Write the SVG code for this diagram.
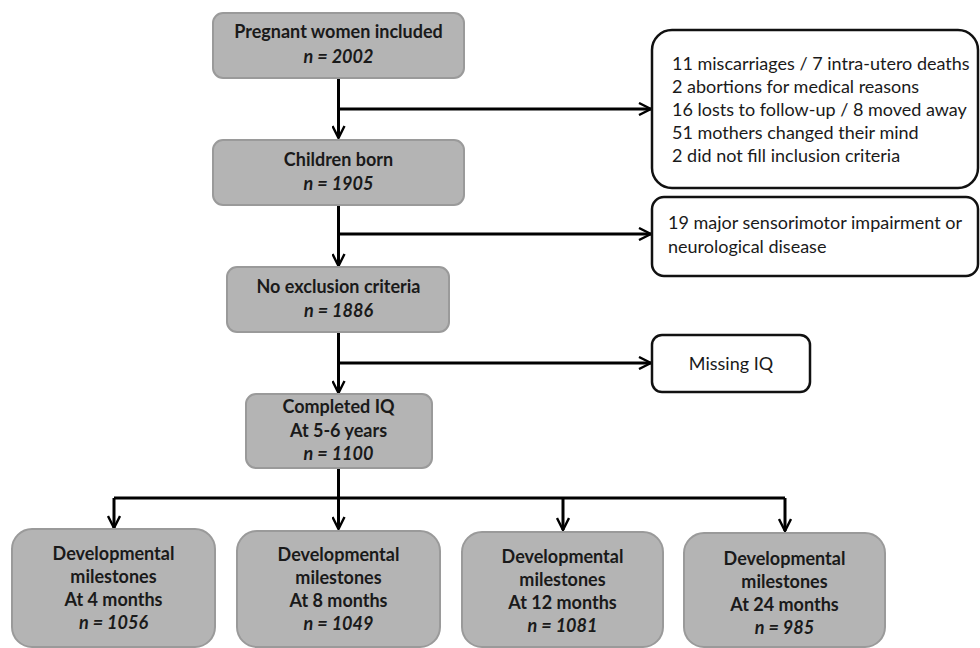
<svg xmlns="http://www.w3.org/2000/svg" width="980" height="648" viewBox="0 0 980 648">
<defs>
<style>
.g{fill:#b4b4b4;stroke:#9a9a9a;stroke-width:2}
.w{fill:#fff;stroke:#111;stroke-width:2.5}
.t{font-family:Lato,"Open Sans","Liberation Sans",sans-serif;font-size:18px;fill:#1a1a1a}
.b{font-weight:bold;text-anchor:middle}
.i{font-style:italic}
.c{fill:none;stroke:#000;stroke-width:3}
</style>
<marker id="ah" viewBox="0 0 14 14" refX="13" refY="7" markerWidth="14" markerHeight="14" markerUnits="userSpaceOnUse" orient="auto">
<path d="M1,1 L13,7 L1,13" fill="none" stroke="#000" stroke-width="2.4"/>
</marker>
</defs>
<rect width="980" height="648" fill="#fff"/>
<g id="connectors">
<path class="c" d="M338.5,79 V138" marker-end="url(#ah)"/>
<path class="c" d="M338.5,109 H651" marker-end="url(#ah)"/>
<path class="c" d="M338.5,205 V266" marker-end="url(#ah)"/>
<path class="c" d="M338.5,234 H651" marker-end="url(#ah)"/>
<path class="c" d="M338.5,333 V393" marker-end="url(#ah)"/>
<path class="c" d="M338.5,363 H651" marker-end="url(#ah)"/>
<path class="c" d="M338.5,469 V498"/>
<path class="c" d="M114,498 H785"/>
<path class="c" d="M114,498 V528" marker-end="url(#ah)"/>
<path class="c" d="M338.5,498 V529" marker-end="url(#ah)"/>
<path class="c" d="M563,498 V530" marker-end="url(#ah)"/>
<path class="c" d="M785,498 V531" marker-end="url(#ah)"/>
</g>
<g id="n1">
<rect class="g" x="213" y="13" width="251" height="65" rx="10"/>
<text class="t b" x="338.5" y="38">Pregnant women included</text>
<text class="t b i" x="338.5" y="63">n = 2002</text>
</g>
<g id="n2">
<rect class="g" x="213" y="140" width="251" height="65" rx="10"/>
<text class="t b" x="338.5" y="166">Children born</text>
<text class="t b i" x="338.5" y="190">n = 1905</text>
</g>
<g id="n3">
<rect class="g" x="227" y="267" width="222" height="65" rx="10"/>
<text class="t b" x="338.5" y="293">No exclusion criteria</text>
<text class="t b i" x="338.5" y="317">n = 1886</text>
</g>
<g id="n4">
<rect class="g" x="246" y="394" width="186" height="74" rx="10"/>
<text class="t b" x="338.5" y="413">Completed IQ</text>
<text class="t b" x="338.5" y="437">At 5-6 years</text>
<text class="t b i" x="338.5" y="460">n = 1100</text>
</g>
<g id="r1">
<rect class="w" x="652" y="30" width="326" height="158" rx="20"/>
<text class="t" x="672" y="70">11 miscarriages / 7 intra-utero deaths</text>
<text class="t" x="672" y="93">2 abortions for medical reasons</text>
<text class="t" x="672" y="116">16 losts to follow-up / 8 moved away</text>
<text class="t" x="672" y="139">51 mothers changed their mind</text>
<text class="t" x="672" y="162">2 did not fill inclusion criteria</text>
</g>
<g id="r2">
<rect class="w" x="652" y="197" width="326" height="79" rx="12"/>
<text class="t" x="668" y="229">19 major sensorimotor impairment or</text>
<text class="t" x="668" y="253">neurological disease</text>
</g>
<g id="r3">
<rect class="w" x="652" y="335" width="158" height="57" rx="10"/>
<text class="t" x="731" y="370" text-anchor="middle">Missing IQ</text>
</g>
<g id="d1">
<rect class="g" x="12" y="529" width="203" height="118" rx="20"/>
<text class="t b" x="113.5" y="560">Developmental</text>
<text class="t b" x="113.5" y="583">milestones</text>
<text class="t b" x="113.5" y="606">At 4 months</text>
<text class="t b i" x="113.5" y="629">n = 1056</text>
</g>
<g id="d2">
<rect class="g" x="237" y="531" width="203" height="116" rx="20"/>
<text class="t b" x="338.5" y="561">Developmental</text>
<text class="t b" x="338.5" y="584">milestones</text>
<text class="t b" x="338.5" y="607">At 8 months</text>
<text class="t b i" x="338.5" y="630">n = 1049</text>
</g>
<g id="d3">
<rect class="g" x="462" y="532" width="201" height="115" rx="20"/>
<text class="t b" x="562.5" y="563">Developmental</text>
<text class="t b" x="562.5" y="586">milestones</text>
<text class="t b" x="562.5" y="609">At 12 months</text>
<text class="t b i" x="562.5" y="632">n = 1081</text>
</g>
<g id="d4">
<rect class="g" x="684" y="533" width="201" height="114" rx="20"/>
<text class="t b" x="784.5" y="565">Developmental</text>
<text class="t b" x="784.5" y="588">milestones</text>
<text class="t b" x="784.5" y="611">At 24 months</text>
<text class="t b i" x="784.5" y="634">n = 985</text>
</g>
</svg>
